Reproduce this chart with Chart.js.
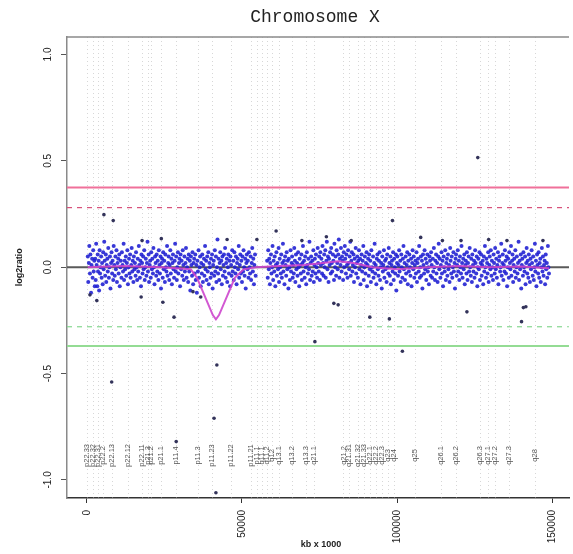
<!DOCTYPE html>
<html>
<head>
<meta charset="utf-8">
<title>Chromosome X</title>
<script src="https://cdn.jsdelivr.net/npm/chart.js@4/dist/chart.umd.min.js"></script>
<style>
  html, body { margin: 0; padding: 0; background: #fff; }
  canvas { display: block; }
</style>
</head>
<body>
<canvas id="chromChart" width="573" height="554"></canvas>
<script>
// axis ticks
const xTicks = [0, 50000, 100000, 150000];
const yTicks = [1.0, 0.5, 0.0, -0.5, -1.0];
const yTickLabels = ['1.0', '0.5', '0.0', '-0.5', '-1.0'];

// threshold lines (log2 ratio)
const gainSolid = 0.375;
const gainDashed = 0.28;
const lossDashed = -0.28;
const lossSolid = -0.37;

// cytoband names and start positions (kb)
const bandNames = ['p22.33', 'p22.32', 'p22.31', 'p22.2', 'p22.13', 'p22.12', 'p22.11', 'p21.3', 'p21.2', 'p21.1',
    'p11.4', 'p11.3', 'p11.23', 'p11.22', 'p11.21', 'p11.1', 'q11.1', 'q11.2', 'q12', 'q13.1',
    'q13.2', 'q13.3', 'q21.1', 'q21.2', 'q21.31', 'q21.32', 'q21.33', 'q22.1', 'q22.2', 'q22.3',
    'q23', 'q24', 'q25', 'q26.1', 'q26.2', 'q26.3', 'q27.1', 'q27.2', 'q27.3', 'q28'];
const bandKb = [0, 1900, 3500, 5100, 8000, 13100, 17900, 19600, 20800, 24000,
    28800, 35900, 40400, 46500, 52900, 54800, 56400, 58000, 59600, 61900,
    66000, 70500, 73100, 82700, 84600, 87500, 89400, 91300, 93300, 95200,
    97100, 99100, 105800, 114100, 118900, 126600, 129200, 131400, 136200, 144500];

// smoothed segment line
const segKb = [300, 12000, 24000, 33500, 35500, 40600, 41600, 42600, 47700, 50500, 54500, 62000, 70000, 76000, 81000, 86000, 92000, 100000, 110000, 120000, 130000, 140000, 149000];
const segLog2 = [0.0, 0.005, 0.0, -0.01, -0.05, -0.225, -0.245, -0.225, -0.05, -0.01, 0.0, 0.005, 0.01, 0.02, 0.028, 0.02, 0.0, -0.01, 0.0, 0.006, 0.0, 0.003, -0.005];

// probes on the short arm [kb, log2ratio]
const probesP = [
[300,0.05],[450,-0.07],[650,0.02],[800,0.10],[1000,-0.03],[1150,0.06],[1350,-0.12],[1500,0.01],[1700,0.04],[1850,-0.05],[2050,0.08],[2200,-0.02],[2400,0.03],[2550,-0.09],
[2700,0.04],[2850,-0.06],[3000,0.11],[3150,0.01],[3350,-0.09],[3500,0.06],[3600,-0.02],[3800,0.03],[3950,-0.11],[4100,0.08],[4250,-0.03],[4400,0.00],[4600,0.05],[4750,-0.05],[4900,0.02],[5100,-0.08],
[5250,0.07],[5400,-0.01],[5600,0.12],[5750,0.03],[5900,-0.04],[6100,0.06],[6250,-0.07],[6400,0.01],[6600,0.04],[6750,-0.02],[6900,0.09],[7100,-0.05],[7250,0.00],[7450,0.05],[7600,-0.10],[7800,0.02],
[7950,0.07],[8150,-0.03],[8300,0.03],[8500,-0.06],[8650,0.10],[8850,0.01],[9000,-0.04],[9200,0.05],[9350,-0.01],[9550,0.08],[9700,-0.07],[9900,0.02],[10100,0.04],[10250,-0.03],[10450,0.06],[10600,-0.09],
[10800,0.00],[10950,0.03],[11150,-0.05],[11300,0.07],[11500,0.01],[11650,-0.02],[11850,0.11],[12000,-0.06],[12200,0.03],[12350,-0.01],[12550,0.05],[12700,-0.04],[12900,0.02],[13050,0.08],[13250,-0.08],[13400,0.00],
[13600,0.04],[13750,-0.03],[13950,0.06],[14100,-0.05],[14300,0.01],[14450,0.09],[14650,-0.02],[14800,0.03],[15000,-0.07],[15150,0.05],[15350,-0.01],[15500,0.02],[15700,-0.04],[15850,0.07],[16050,0.00],[16200,-0.06],
[16400,0.04],[16550,-0.02],[16750,0.10],[16900,0.01],[17100,-0.05],[17250,0.03],[17450,-0.09],[17600,0.06],[17800,0.02],[17950,-0.03],[18150,0.05],[18300,-0.01],[18500,0.08],[18650,-0.06],[18850,0.00],[19000,0.04],
[19200,-0.04],[19350,0.02],[19550,0.12],[19700,-0.02],[19900,0.06],[20050,-0.07],[20250,0.01],[20400,0.03],[20600,-0.05],[20750,0.07],[20950,-0.01],[21100,0.04],[21300,-0.03],[21450,0.09],[21650,0.00],[21800,-0.08],
[22000,0.05],[22150,0.02],[22350,-0.04],[22500,0.06],[22700,-0.02],[22850,0.03],[23050,-0.06],[23200,0.08],[23400,0.01],[23550,-0.03],[23750,0.05],[23900,-0.10],[24100,0.02],[24250,0.04],[24450,-0.05],[24600,0.07],
[24800,-0.01],[24950,0.03],[25150,-0.07],[25300,0.06],[25500,0.00],[25650,-0.02],[25850,0.10],[26000,-0.04],[26200,0.02],[26350,0.05],[26550,-0.06],[26700,0.01],[26900,0.08],[27050,-0.03],[27250,0.04],[27400,-0.08],
[27600,0.02],[27750,0.06],[27950,-0.01],[28100,-0.05],[28300,0.03],[28450,0.11],[28650,-0.02],[28800,0.05],[29000,-0.06],[29150,0.00],[29350,0.07],[29500,-0.03],[29700,0.02],[29850,0.04],[30050,-0.09],[30200,0.06],
[30400,-0.01],[30550,0.03],[30750,-0.04],[30900,0.08],[31100,0.01],[31250,-0.06],[31450,0.05],[31600,-0.02],[31800,0.02],[31950,0.09],[32150,-0.05],[32300,0.00],[32500,0.04],[32650,-0.07],[32850,0.06],[33000,-0.02],
[33200,0.03],[33350,-0.11],[33550,0.05],[33700,0.01],[33900,-0.04],[34050,0.07],[34250,-0.08],[34400,0.02],[34600,0.04],[34750,-0.03],[34950,0.06],[35100,-0.06],[35300,0.01],[35450,-0.12],[35650,0.03],[35800,-0.02],
[36000,0.08],[36150,-0.05],[36350,0.00],[36500,0.05],[36700,-0.09],[36850,0.02],[37050,-0.03],[37200,0.06],[37400,-0.07],[37550,0.01],[37750,0.04],[37900,-0.04],[38100,0.10],[38250,-0.01],[38450,0.03],[38600,-0.06],
[38800,0.05],[38950,-0.02],[39150,0.07],[39300,-0.08],[39500,0.02],[39650,0.00],[39850,-0.05],[40000,0.04],[40200,-0.03],[40350,0.06],[40550,-0.10],[40700,0.01],[40900,0.03],[41050,-0.04],[41250,0.08],[41400,-0.02],
[41600,0.05],[41750,-0.07],[41950,0.00],[42100,0.13],[42300,-0.03],[42450,0.04],[42650,-0.06],[42800,0.02],[43000,0.07],[43150,-0.01],[43350,0.03],[43500,-0.08],[43700,0.05],[43850,-0.04],[44050,0.01],[44200,0.06],
[44400,-0.02],[44550,0.09],[44750,-0.05],[44900,0.02],[45100,0.04],[45250,-0.07],[45450,0.00],[45600,0.06],[45800,-0.03],[45950,0.03],[46150,-0.09],[46300,0.05],[46500,0.01],[46650,-0.04],[46850,0.08],[47000,-0.02],
[47200,0.03],[47350,-0.06],[47550,0.07],[47700,0.00],[47900,-0.03],[48050,0.05],[48250,-0.08],[48400,0.02],[48600,0.04],[48750,-0.01],[48950,0.10],[49100,-0.05],[49300,0.01],[49450,0.06],[49650,-0.03],[49800,0.03],
[50000,-0.07],[50150,0.05],[50350,-0.02],[50500,0.08],[50700,0.00],[50850,-0.04],[51050,0.04],[51200,-0.10],[51400,0.02],[51550,0.06],[51750,-0.01],[51900,0.03],[52100,-0.05],[52250,0.07],[52450,0.00],[52600,-0.03],
[52800,0.05],[52950,-0.06],[53150,0.02],[53300,0.09],[53500,-0.02],[53650,0.04],[53850,-0.08],[54000,0.01],[54200,0.06],[54400,-0.04]
];

// probes on the long arm [kb, log2ratio]
const probesQ = [
[58100,0.03],[58300,-0.05],[58450,0.08],[58650,-0.01],[58800,0.04],[59000,-0.08],[59150,0.02],[59350,0.06],[59500,-0.03],[59700,0.00],[59850,0.10],[60050,-0.06],[60200,0.03],[60400,-0.02],[60550,0.05],[60750,-0.09],
[60900,0.01],[61100,0.07],[61250,-0.04],[61450,0.02],[61600,-0.01],[61800,0.09],[61950,-0.07],[62150,0.04],[62300,0.00],[62500,-0.03],[62650,0.06],[62850,-0.05],[63000,0.02],[63200,0.11],[63350,-0.02],[63550,0.03],
[63700,-0.08],[63900,0.05],[64050,0.01],[64250,-0.04],[64400,0.07],[64600,-0.01],[64750,0.03],[64950,-0.10],[65100,0.04],[65300,0.00],[65450,-0.06],[65650,0.08],[65800,-0.02],[66000,0.02],[66150,0.05],[66350,-0.05],
[66500,0.01],[66700,-0.03],[66850,0.09],[67050,0.03],[67200,-0.07],[67400,0.06],[67550,-0.01],[67750,0.02],[67900,-0.04],[68100,0.07],[68250,0.00],[68450,-0.09],[68600,0.04],[68800,0.01],[68950,-0.03],[69150,0.06],
[69300,-0.06],[69500,0.02],[69650,0.10],[69850,-0.02],[70000,0.03],[70200,-0.05],[70350,0.05],[70550,0.00],[70700,-0.08],[70900,0.07],[71050,0.01],[71250,-0.03],[71400,0.04],[71600,-0.01],[71750,0.12],[71950,-0.06],
[72100,0.02],[72300,0.05],[72450,-0.04],[72650,0.03],[72800,-0.02],[73000,0.08],[73150,-0.07],[73350,0.01],[73500,0.04],[73700,-0.03],[73850,0.06],[74050,0.00],[74200,-0.05],[74400,0.09],[74550,0.02],[74750,-0.02],
[74900,0.05],[75100,-0.06],[75250,0.07],[75450,0.01],[75600,0.04],[75800,-0.03],[75950,0.10],[76150,0.02],[76300,-0.04],[76500,0.06],[76650,0.00],[76850,0.08],[77000,-0.05],[77200,0.03],[77350,0.12],[77550,-0.01],
[77700,0.05],[77900,-0.07],[78050,0.04],[78250,0.01],[78400,0.07],[78600,-0.03],[78750,0.09],[78950,0.02],[79100,-0.02],[79300,0.06],[79450,0.03],[79650,-0.06],[79800,0.11],[80000,0.00],[80150,0.05],[80350,-0.04],
[80500,0.08],[80700,0.02],[80850,-0.01],[81050,0.06],[81200,0.13],[81400,-0.05],[81550,0.04],[81750,0.01],[81900,0.09],[82100,-0.02],[82250,0.05],[82450,0.03],[82600,-0.06],[82800,0.07],[82950,0.00],[83150,0.10],
[83300,0.04],[83500,-0.03],[83650,0.06],[83850,0.01],[84000,-0.05],[84200,0.08],[84350,0.02],[84550,-0.01],[84700,0.05],[84900,0.12],[85050,-0.04],[85250,0.03],[85400,0.07],[85600,-0.02],[85750,0.01],[85950,0.06],
[86100,-0.07],[86300,0.04],[86450,0.00],[86650,0.09],[86800,-0.03],[87000,0.02],[87150,0.05],[87350,-0.05],[87500,0.03],[87700,0.08],[87850,-0.01],[88050,0.04],[88200,-0.08],[88400,0.01],[88550,0.06],[88750,-0.02],
[88900,0.03],[89100,0.10],[89250,-0.06],[89450,0.00],[89600,0.05],[89800,-0.03],[89950,0.02],[90150,0.07],[90300,-0.09],[90500,0.01],[90650,0.04],[90850,-0.04],[91000,0.06],[91200,-0.01],[91350,0.03],[91550,-0.07],
[91700,0.08],[91900,0.00],[92050,-0.02],[92250,0.05],[92400,-0.05],[92600,0.02],[92750,0.11],[92950,-0.03],[93100,0.01],[93300,-0.08],[93450,0.04],[93650,0.06],[93800,-0.01],[94000,-0.04],[94150,0.03],[94350,0.07],
[94500,-0.06],[94700,0.00],[94850,0.02],[95050,-0.10],[95200,0.05],[95400,-0.02],[95550,0.01],[95750,0.08],[95900,-0.05],[96100,0.03],[96250,-0.01],[96450,0.04],[96600,-0.07],[96800,0.06],[96950,0.00],[97150,-0.03],
[97300,0.09],[97500,0.02],[97650,-0.04],[97850,0.05],[98000,-0.08],[98200,0.01],[98350,0.03],[98550,-0.02],[98700,0.07],[98900,-0.06],[99050,0.04],[99250,0.00],[99400,-0.03],[99600,0.06],[99750,-0.11],[99950,0.02],
[100100,0.05],[100300,-0.04],[100450,0.01],[100650,0.08],[100800,-0.02],[101000,0.03],[101150,-0.07],[101350,0.06],[101500,0.00],[101700,-0.05],[101850,0.04],[102050,0.10],[102200,-0.01],[102400,0.02],[102550,-0.06],[102750,0.05],
[102900,-0.03],[103100,0.01],[103250,0.07],[103450,-0.08],[103600,0.03],[103800,-0.02],[103950,0.06],[104150,0.00],[104300,-0.04],[104500,0.04],[104650,-0.09],[104850,0.02],[105000,0.08],[105200,-0.01],[105350,0.05],[105550,-0.05],
[105700,0.01],[105900,0.03],[106050,-0.03],[106250,0.07],[106400,-0.07],[106600,0.02],[106750,0.04],[106950,-0.02],[107100,0.10],[107300,-0.05],[107450,0.00],[107650,0.05],[107800,-0.04],[108000,0.03],[108150,-0.10],[108350,0.06],
[108500,0.01],[108700,-0.03],[108850,0.08],[109050,-0.01],[109200,0.04],[109400,-0.06],[109550,0.02],[109750,0.06],[109900,-0.02],[110100,0.00],[110250,-0.08],[110450,0.05],[110600,0.03],[110800,-0.04],[110950,0.07],[111150,0.01],
[111300,-0.05],[111500,0.04],[111650,-0.02],[111850,0.09],[112000,0.00],[112200,-0.06],[112350,0.03],[112550,0.06],[112700,-0.03],[112900,0.02],[113050,-0.07],[113250,0.05],[113400,0.11],[113600,-0.01],[113750,0.04],[113950,-0.05],
[114100,0.01],[114300,0.07],[114450,-0.03],[114650,0.03],[114800,-0.09],[115000,0.05],[115150,0.00],[115350,-0.02],[115500,0.08],[115700,-0.06],[115850,0.02],[116050,0.04],[116200,-0.04],[116400,0.06],[116550,-0.01],[116750,0.01],
[116900,-0.07],[117100,0.09],[117250,0.03],[117450,-0.03],[117600,0.05],[117800,-0.05],[117950,0.00],[118150,0.07],[118300,-0.02],[118500,0.02],[118650,-0.10],[118850,0.04],[119000,0.06],[119200,-0.04],[119350,0.01],[119550,0.08],
[119700,-0.02],[119900,0.03],[120050,-0.06],[120250,0.05],[120400,0.00],[120600,-0.03],[120750,0.10],[120950,0.02],[121100,-0.05],[121300,0.04],[121450,-0.01],[121650,0.06],[121800,-0.08],[122000,0.01],[122150,0.03],[122350,-0.03],
[122500,0.07],[122700,-0.06],[122850,0.02],[123050,0.05],[123200,-0.02],[123400,0.09],[123550,0.00],[123750,-0.04],[123900,0.04],[124100,-0.07],[124250,0.06],[124450,0.01],[124600,-0.02],[124800,0.03],[124950,-0.05],[125150,0.08],
[125300,0.02],[125500,-0.03],[125650,0.05],[125850,-0.09],[126000,0.00],[126200,0.04],[126350,-0.01],[126550,0.07],[126700,-0.06],[126900,0.02],[127050,0.06],[127250,-0.04],[127400,0.01],[127600,0.03],[127750,-0.08],[127950,0.05],
[128100,-0.02],[128300,0.10],[128450,0.00],[128650,-0.05],[128800,0.04],[129000,0.02],[129150,-0.03],[129350,0.07],[129500,-0.07],[129700,0.01],[129850,0.05],[130050,-0.01],[130200,0.08],[130400,-0.04],[130550,0.03],[130750,0.00],
[130900,-0.06],[131100,0.06],[131250,0.02],[131450,-0.03],[131600,0.09],[131800,-0.01],[131950,0.04],[132150,-0.05],[132300,0.01],[132500,0.07],[132650,-0.08],[132850,0.03],[133000,0.05],[133200,-0.02],[133350,0.00],[133550,0.11],
[133700,-0.04],[133900,0.02],[134050,0.06],[134250,-0.06],[134400,0.01],[134600,-0.02],[134750,0.08],[134950,0.03],[135100,-0.03],[135300,0.05],[135450,-0.09],[135650,0.00],[135800,0.04],[136000,-0.05],[136150,0.07],[136350,0.02],
[136500,-0.01],[136700,0.10],[136850,-0.04],[137050,0.03],[137200,0.06],[137400,-0.07],[137550,0.01],[137750,0.04],[137900,-0.02],[138100,0.08],[138250,-0.05],[138450,0.00],[138600,0.05],[138800,-0.03],[138950,0.02],[139150,0.12],
[139300,-0.06],[139500,0.03],[139650,-0.01],[139850,0.06],[140000,-0.10],[140200,0.01],[140350,0.04],[140550,-0.04],[140700,0.07],[140900,0.00],[141050,-0.02],[141250,0.05],[141400,-0.08],[141600,0.02],[141750,0.09],[141950,-0.03],
[142100,0.03],[142300,-0.05],[142450,0.06],[142650,0.01],[142800,-0.07],[143000,0.04],[143150,-0.01],[143350,0.08],[143500,0.02],[143700,-0.04],[143850,0.05],[144050,-0.06],[144200,0.00],[144400,0.11],[144550,-0.02],[144750,0.03],
[144900,-0.09],[145100,0.06],[145250,0.01],[145450,-0.03],[145600,0.07],[145800,-0.05],[145950,0.02],[146150,0.04],[146300,-0.07],[146500,0.00],[146650,0.09],[146850,-0.02],[147000,0.05],[147200,-0.04],[147350,0.01],[147550,0.03],
[147700,-0.08],[147900,0.06],[148050,-0.01],[148250,0.02],[148400,-0.05],[148600,0.10],[148750,0.00],[148950,-0.03]
];

// isolated probes away from the main cloud [kb, log2ratio]
const outliers = [
[1000,-0.13],[3200,-0.157],[5500,0.247],[8500,0.219],[8000,-0.54],[17500,-0.14],[24500,-0.165],[28100,-0.235],
[28800,-0.82],[34200,-0.115],[36700,-0.14],[41000,-0.71],[41600,-1.06],[41900,-0.46],[24000,0.134],[17800,0.125],
[45200,0.13],[54800,0.13],[61000,0.17],[69300,0.125],[73500,-0.35],[77200,0.143],[79600,-0.17],[81000,-0.177],
[85200,0.125],[91200,-0.235],[97500,-0.243],[98500,0.219],[101700,-0.395],[107600,0.14],[114600,0.125],[120600,0.125],
[122500,-0.21],[126000,0.515],[129500,0.13],[135400,0.125],[140100,-0.256],[140700,-0.19],[141500,-0.186],[147000,0.125]
];

const X_MIN = -6400;
const X_MAX = 155400;
const Y_MIN = -1.085;
const Y_MAX = 1.082;

const toXY = arr => arr.map(p => ({ x: p[0], y: p[1] }));
const hLine = v => [{ x: X_MIN, y: v }, { x: X_MAX, y: v }];

// band boundaries, cytoband labels, top frame and rotated axis text
const decorations = {
    id: 'decorations',
    beforeDatasetsDraw(chart) {
        const { ctx, chartArea, scales } = chart;
        const x = scales.x, y = scales.y;
        ctx.save();
        ctx.beginPath();
        ctx.rect(chartArea.left, chartArea.top, chartArea.right - chartArea.left, chartArea.bottom - chartArea.top);
        ctx.clip();

        ctx.strokeStyle = 'rgba(175,175,175,0.5)';
        ctx.lineWidth = 1;
        ctx.setLineDash([1, 3]);
        bandKb.forEach(kb => {
            const px = Math.round(x.getPixelForValue(kb)) + 0.5;
            ctx.beginPath();
            ctx.moveTo(px, chartArea.top);
            ctx.lineTo(px, chartArea.bottom);
            ctx.stroke();
        });
        ctx.setLineDash([]);

        ctx.fillStyle = '#555';
        ctx.font = '7.5px "Liberation Sans", Arial, sans-serif';
        ctx.textAlign = 'center';
        ctx.textBaseline = 'middle';
        const labelY = y.getPixelForValue(-0.885);
        bandNames.forEach((name, i) => {
            ctx.save();
            ctx.translate(x.getPixelForValue(bandKb[i]), labelY);
            ctx.rotate(-Math.PI / 2);
            ctx.fillText(name, 0, 0);
            ctx.restore();
        });
        ctx.restore();
    },
    afterDraw(chart) {
        const { ctx, chartArea, scales } = chart;
        const y = scales.y;
        ctx.save();

        // top frame line
        ctx.strokeStyle = '#8a8a8a';
        ctx.lineWidth = 1.5;
        ctx.beginPath();
        ctx.moveTo(chartArea.left, chartArea.top);
        ctx.lineTo(chartArea.right, chartArea.top);
        ctx.stroke();

        // title
        ctx.fillStyle = '#222';
        ctx.font = '18px "Liberation Mono", "Courier New", monospace';
        ctx.textAlign = 'center';
        ctx.textBaseline = 'middle';
        ctx.fillText('Chromosome X', 315, 17);

        // y tick labels, parallel to the axis
        ctx.font = '10px "Liberation Sans", Arial, sans-serif';
        ctx.fillStyle = '#222';
        yTicks.forEach((v, i) => {
            ctx.save();
            ctx.translate(48, y.getPixelForValue(v));
            ctx.rotate(-Math.PI / 2);
            ctx.fillText(yTickLabels[i], 0, 0);
            ctx.restore();
        });

        // axis titles
        ctx.font = 'bold 9px "Liberation Sans", Arial, sans-serif';
        ctx.save();
        ctx.translate(20, y.getPixelForValue(0));
        ctx.rotate(-Math.PI / 2);
        ctx.fillText('log2ratio', 0, 0);
        ctx.restore();
        ctx.fillText('kb x 1000', 321, 545);
        ctx.restore();
    }
};

new Chart(document.getElementById('chromChart'), {
    type: 'scatter',
    data: {
        datasets: [
            {
                label: 'segments',
                type: 'line',
                data: segKb.map((kb, i) => ({ x: kb, y: segLog2[i] })),
                borderColor: 'rgba(205,70,205,0.9)',
                borderWidth: 2,
                pointRadius: 0,
                tension: 0,
                order: 0
            },
            {
                label: 'outliers',
                data: toXY(outliers),
                backgroundColor: '#33335a',
                pointRadius: 1.8,
                pointBorderWidth: 0,
                order: 1
            },
            {
                label: 'probes p',
                data: toXY(probesP),
                backgroundColor: 'rgba(28,28,210,0.88)',
                pointRadius: 2,
                pointBorderWidth: 0,
                order: 2
            },
            {
                label: 'probes q',
                data: toXY(probesQ),
                backgroundColor: 'rgba(28,28,210,0.88)',
                pointRadius: 2,
                pointBorderWidth: 0,
                order: 2
            },
            {
                label: 'zero',
                type: 'line',
                data: hLine(0),
                borderColor: '#5a5a5a',
                borderWidth: 2,
                pointRadius: 0,
                order: 3
            },
            {
                label: 'gain',
                type: 'line',
                data: hLine(gainSolid),
                borderColor: '#f0709a',
                borderWidth: 2,
                pointRadius: 0,
                order: 3
            },
            {
                label: 'gain dashed',
                type: 'line',
                data: hLine(gainDashed),
                borderColor: '#d8507a',
                borderWidth: 1.2,
                borderDash: [5, 5],
                pointRadius: 0,
                order: 3
            },
            {
                label: 'loss dashed',
                type: 'line',
                data: hLine(lossDashed),
                borderColor: '#86d890',
                borderWidth: 1.2,
                borderDash: [5, 5],
                pointRadius: 0,
                order: 3
            },
            {
                label: 'loss',
                type: 'line',
                data: hLine(lossSolid),
                borderColor: '#94dc94',
                borderWidth: 2,
                pointRadius: 0,
                order: 3
            }
        ]
    },
    options: {
        responsive: false,
        animation: false,
        layout: { padding: { top: 37, left: 0, right: 0, bottom: 0 } },
        plugins: {
            legend: { display: false },
            tooltip: { enabled: false },
            title: { display: false }
        },
        scales: {
            x: {
                type: 'linear',
                min: X_MIN,
                max: X_MAX,
                afterBuildTicks: s => { s.ticks = xTicks.map(v => ({ value: v })); },
                afterFit: s => { s.height = 56; },
                grid: { drawOnChartArea: false, drawTicks: true, tickLength: 5, color: '#333' },
                border: { display: true, color: '#333', width: 1.5 },
                ticks: {
                    minRotation: 90,
                    maxRotation: 90,
                    padding: 7,
                    color: '#222',
                    font: { family: '"Liberation Sans", Arial, sans-serif', size: 10 },
                    callback: v => String(v)
                }
            },
            y: {
                type: 'linear',
                min: Y_MIN,
                max: Y_MAX,
                afterBuildTicks: s => { s.ticks = yTicks.map(v => ({ value: v })); },
                afterFit: s => { s.width = 67; },
                grid: { drawOnChartArea: false, drawTicks: true, tickLength: 6, color: '#555' },
                border: { display: true, color: '#8a8a8a', width: 1.5 },
                ticks: { display: false }
            }
        }
    },
    plugins: [decorations]
});
</script>
</body>
</html>
